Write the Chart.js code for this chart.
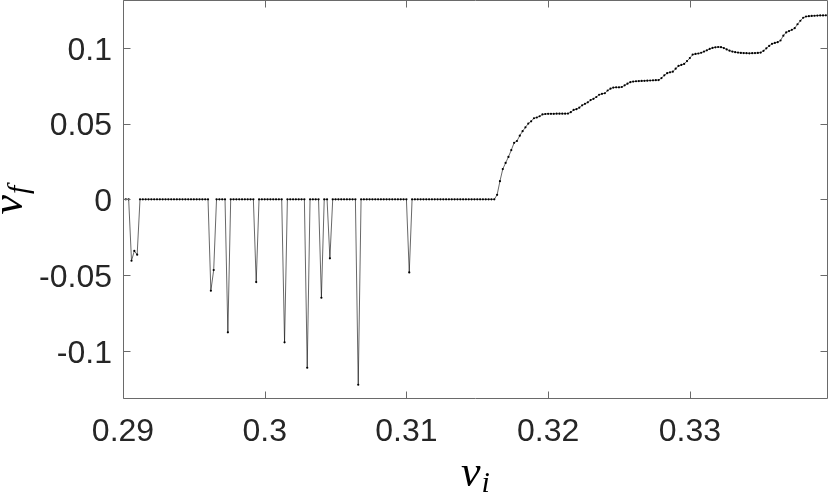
<!DOCTYPE html>
<html><head><meta charset="utf-8">
<script src="https://cdn.jsdelivr.net/npm/chart.js@4"></script>
<style>html,body{margin:0;padding:0;background:#fff;}canvas{display:block}</style>
</head><body>
<canvas id="c" width="830" height="495" style="width:830px;height:495px"></canvas>
<script>
const xValues = [
0.2900,0.2902,0.2904,0.2906,0.2908,0.2910,0.2912,0.2914,0.2916,0.2918,0.2920,0.2922,0.2924,0.2926,0.2928,0.2930,0.2932,0.2934,0.2936,0.2938,0.2940,0.2942,0.2944,0.2946,0.2948,
0.2950,0.2952,0.2954,0.2956,0.2958,0.2960,0.2962,0.2964,0.2966,0.2968,0.2970,0.2972,0.2974,0.2976,0.2978,0.2980,0.2982,0.2984,0.2986,0.2988,0.2990,0.2992,0.2994,0.2996,0.2998,
0.3000,0.3002,0.3004,0.3006,0.3008,0.3010,0.3012,0.3014,0.3016,0.3018,0.3020,0.3022,0.3024,0.3026,0.3028,0.3030,0.3032,0.3034,0.3036,0.3038,0.3040,0.3042,0.3044,0.3046,0.3048,
0.3050,0.3052,0.3054,0.3056,0.3058,0.3060,0.3062,0.3064,0.3066,0.3068,0.3070,0.3072,0.3074,0.3076,0.3078,0.3080,0.3082,0.3084,0.3086,0.3088,0.3090,0.3092,0.3094,0.3096,0.3098,
0.3100,0.3102,0.3104,0.3106,0.3108,0.3110,0.3112,0.3114,0.3116,0.3118,0.3120,0.3122,0.3124,0.3126,0.3128,0.3130,0.3132,0.3134,0.3136,0.3138,0.3140,0.3142,0.3144,0.3146,0.3148,
0.3150,0.3152,0.3154,0.3156,0.3158,0.3160,0.3162,0.3164,0.3166,0.3168,0.3170,0.3172,0.3174,0.3176,0.3178,0.3180,0.3182,0.3184,0.3186,0.3188,0.3190,0.3192,0.3194,0.3196,0.3198,
0.3200,0.3202,0.3204,0.3206,0.3208,0.3210,0.3212,0.3214,0.3216,0.3218,0.3220,0.3222,0.3224,0.3226,0.3228,0.3230,0.3232,0.3234,0.3236,0.3238,0.3240,0.3242,0.3244,0.3246,0.3248,
0.3250,0.3252,0.3254,0.3256,0.3258,0.3260,0.3262,0.3264,0.3266,0.3268,0.3270,0.3272,0.3274,0.3276,0.3278,0.3280,0.3282,0.3284,0.3286,0.3288,0.3290,0.3292,0.3294,0.3296,0.3298,
0.3300,0.3302,0.3304,0.3306,0.3308,0.3310,0.3312,0.3314,0.3316,0.3318,0.3320,0.3322,0.3324,0.3326,0.3328,0.3330,0.3332,0.3334,0.3336,0.3338,0.3340,0.3342,0.3344,0.3346,0.3348,
0.3350,0.3352,0.3354,0.3356,0.3358,0.3360,0.3362,0.3364,0.3366,0.3368,0.3370,0.3372,0.3374,0.3376,0.3378,0.3380,0.3382,0.3384,0.3386,0.3388,0.3390,0.3392,0.3394,0.3396
];
const yValues = [
0,0,0,-0.0405,-0.034,-0.0365,0,0,0,0, 0,0,0,0,0,0,0,0,0,0, 0,0,0,0,0,
0,0,0,0,0,0,-0.0603,-0.0466,0,0, 0,0,-0.0877,0,0,0,0,0,0,0, 0,0,-0.0546,0,0,
0,0,0,0,0,0,0,-0.0943,0,0, 0,0,0,0,0,-0.1111,0,0,0,0, -0.0649,0,0,-0.0389,0,
0,0,0,0,0,0,0,0,-0.1223,0, 0,0,0,0,0,0,0,0,0,0, 0,0,0,0,0,
0,-0.0482,0,0,0,0,0,0,0,0, 0,0,0,0,0,0,0,0,0,0, 0,0,0,0,0,
0,0,0,0,0,0,0,0.003,0.012,0.020, 0.024,0.028,0.0325,0.0373,0.0385,0.042,0.045,0.0475,0.050,0.0515, 0.0535,0.054,0.0548,0.056,0.0563,
0.0564,0.0564,0.0564,0.0565,0.0565,0.0565,0.0565,0.0566,0.0575,0.059, 0.0595,0.0605,0.062,0.063,0.064,0.0655,0.0663,0.0675,0.069,0.0696, 0.070,0.0718,0.073,0.0737,0.0739,
0.0739,0.0741,0.0752,0.0763,0.0773,0.0777,0.0779,0.078,0.0781,0.0782, 0.0783,0.0784,0.0785,0.0786,0.0787,0.080,0.0818,0.0832,0.0838,0.0842, 0.0862,0.088,0.0887,0.0893,0.0912,
0.0932,0.0955,0.0959,0.0962,0.0967,0.0975,0.0983,0.0992,0.0999,0.1003, 0.1005,0.1004,0.0998,0.0989,0.0981,0.0975,0.0971,0.0968,0.0966,0.0965, 0.0964,0.0963,0.0964,0.0965,0.0966,
0.0968,0.098,0.0996,0.1012,0.1026,0.1032,0.1037,0.1048,0.108,0.1101, 0.111,0.1118,0.1129,0.1155,0.1178,0.1198,0.1206,0.1208,0.121,0.1211, 0.1212,0.1213,0.1213,0.1214
];
const xTickValues = [0.29, 0.30, 0.31, 0.32, 0.33];
const xTickLabels = ['0.29', '0.3', '0.31', '0.32', '0.33'];
const yTickValues = [-0.1, -0.05, 0, 0.05, 0.1];
const yTickLabels = ['-0.1', '-0.05', '0', '0.05', '0.1'];
const xTitleMain = 'v', xTitleSub = 'i';
const yTitleMain = 'v', yTitleSub = 'f';

const points = xValues.map((x, i) => ({x: x, y: yValues[i]}));
const axisColor = '#6a6a6a';
const textColor = '#262626';
const tickFont = {family: '"Liberation Sans", Arial, sans-serif', size: 32};

const framePlugin = {
  id: 'frame',
  afterDatasetsDraw(chart) {
    const ctx = chart.ctx, a = chart.chartArea, xs = chart.scales.x, ys = chart.scales.y;
    const L = Math.round(a.left) + 0.5, R = Math.round(a.right) - 0.5;
    const T = Math.round(a.top) + 0.5, B = Math.round(a.bottom) - 0.5;
    ctx.save();
    ctx.strokeStyle = axisColor; ctx.lineWidth = 1;
    ctx.beginPath();
    ctx.rect(L, T, R - L, B - T);
    const tl = 7;
    xTickValues.forEach(v => {
      const p = Math.round(xs.getPixelForValue(v)) + 0.5;
      ctx.moveTo(p, B); ctx.lineTo(p, B - tl);
      ctx.moveTo(p, T); ctx.lineTo(p, T + tl);
    });
    yTickValues.forEach(v => {
      const p = Math.round(ys.getPixelForValue(v)) + 0.5;
      ctx.moveTo(L, p); ctx.lineTo(L + tl, p);
      ctx.moveTo(R, p); ctx.lineTo(R - tl, p);
    });
    ctx.stroke();
    ctx.restore();
  },
  afterDraw(chart) {
    const ctx = chart.ctx, a = chart.chartArea;
    const mainFont = 'italic 44px "Liberation Serif", serif';
    const subFont = 'italic 30px "Liberation Serif", serif';
    ctx.save();
    ctx.fillStyle = '#000';
    ctx.textBaseline = 'alphabetic';
    ctx.textAlign = 'left';
    ctx.font = mainFont; const wv = ctx.measureText(xTitleMain).width;
    ctx.font = subFont; const wi = ctx.measureText(xTitleSub).width;
    const cx = (a.left + a.right) / 2;
    const sx = cx - (wv + wi + 1) / 2;
    ctx.font = mainFont; ctx.fillText(xTitleMain, sx, 486);
    ctx.font = subFont; ctx.fillText(xTitleSub, sx + wv + 1, 492);
    ctx.font = mainFont; const wv2 = ctx.measureText(yTitleMain).width;
    ctx.font = subFont; const wf = ctx.measureText(yTitleSub).width;
    ctx.translate(22, 200);
    ctx.rotate(-Math.PI / 2);
    const sy = -(wv2 + wf + 1) / 2;
    ctx.font = mainFont; ctx.fillText(yTitleMain, sy, 0);
    ctx.font = subFont; ctx.fillText(yTitleSub, sy + wv2 + 1, 6);
    ctx.restore();
  }
};

new Chart(document.getElementById('c'), {
  type: 'line',
  data: {
    datasets: [{
      data: points,
      borderColor: '#000',
      borderWidth: 0.6,
      pointRadius: 1.1,
      pointBackgroundColor: '#000',
      pointBorderWidth: 0,
      tension: 0,
      fill: false
    }]
  },
  options: {
    responsive: false,
    devicePixelRatio: 1,
    animation: false,
    layout: {autoPadding: false, padding: {left: 0, right: 2, top: 0, bottom: 0}},
    plugins: {legend: {display: false}, tooltip: {enabled: false}},
    scales: {
      x: {
        type: 'linear', min: 0.29, max: 0.33975,
        grid: {display: false, drawTicks: false},
        border: {display: false},
        afterBuildTicks(s) { s.ticks = xTickValues.map(v => ({value: v})); },
        afterFit(s) { s.height = 96; s.paddingLeft = 0; s.paddingRight = 0; s.paddingTop = 0; s.paddingBottom = 0; },
        ticks: {
          autoSkip: false, maxRotation: 0, padding: 14, color: textColor, font: tickFont,
          callback(v) { const i = xTickValues.indexOf(v); return i >= 0 ? xTickLabels[i] : ''; }
        }
      },
      y: {
        type: 'linear', min: -0.1317, max: 0.1315,
        grid: {display: false, drawTicks: false},
        border: {display: false},
        afterBuildTicks(s) { s.ticks = yTickValues.map(v => ({value: v})); },
        afterFit(s) { s.width = 123; s.paddingLeft = 0; s.paddingRight = 0; s.paddingTop = 0; s.paddingBottom = 0; },
        ticks: {
          autoSkip: false, padding: 11, color: textColor, font: tickFont, labelOffset: 3,
          callback(v) { const i = yTickValues.indexOf(v); return i >= 0 ? yTickLabels[i] : ''; }
        }
      }
    }
  },
  plugins: [framePlugin]
});
</script>
</body></html>
